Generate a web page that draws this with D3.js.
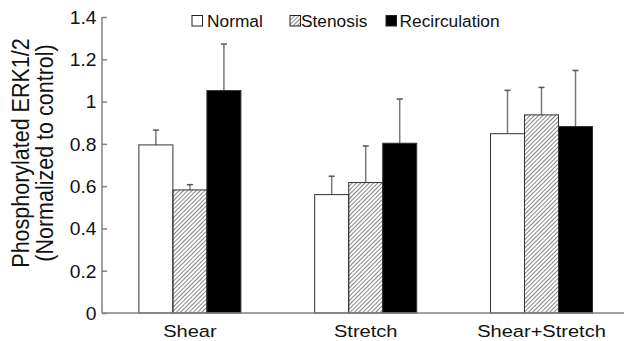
<!DOCTYPE html>
<html>
<head>
<meta charset="utf-8">
<script src="https://cdn.jsdelivr.net/npm/d3@7"></script>
<style>
  body { margin: 0; background: #fff; }
  text { font-family: Arial, "Liberation Sans", sans-serif; fill: #111; }
</style>
</head>
<body>
<div id="chart"></div>
<script>
var width = 624;
var height = 341;

// data
var groups = ["Shear", "Stretch", "Shear+Stretch"];
var series = ["Normal", "Stenosis", "Recirculation"];
var normalVals = [0.795, 0.56, 0.848];
var stenosisVals = [0.582, 0.617, 0.937];
var recircVals = [1.052, 0.803, 0.882];
var normalErr = [0.07, 0.087, 0.205];
var stenosisErr = [0.025, 0.173, 0.13];
var recircErr = [0.22, 0.209, 0.265];
var yTicks = [0, 0.2, 0.4, 0.6, 0.8, 1, 1.2, 1.4];

var values = [normalVals, stenosisVals, recircVals];
var errors = [normalErr, stenosisErr, recircErr];

var x0 = d3.scaleBand().domain(groups).range([102, 102 + 3 * 175.8]).padding(0);
var x1 = d3.scaleBand().domain(series).range([0, x0.bandwidth()]).paddingInner(0).paddingOuter(1.085);
var y = d3.scaleLinear().domain([0, 1.4]).range([313, 17]);

var svg = d3.select("#chart").append("svg")
    .attr("width", width)
    .attr("height", height);

// hatch pattern for Stenosis
var defs = svg.append("defs");
defs.append("pattern")
    .attr("id", "hatch")
    .attr("patternUnits", "userSpaceOnUse")
    .attr("width", 3)
    .attr("height", 3)
    .attr("patternTransform", "rotate(45)")
    .append("line")
    .attr("x1", 0).attr("y1", 0)
    .attr("x2", 0).attr("y2", 3)
    .attr("stroke", "#444")
    .attr("stroke-width", 1.3);

var fills = { "Normal": "#fff", "Stenosis": "url(#hatch)", "Recirculation": "#000" };

// build flat records
var rows = [];
groups.forEach(function(g, i){
    series.forEach(function(s, j){
        rows.push({ group: g, series: s, value: values[j][i], err: errors[j][i] });
    });
});

function cx(d){ return x0(d.group) + x1(d.series) + x1.bandwidth() / 2; }

// error bars
var eb = svg.append("g").attr("id", "errbars");
eb.selectAll("line.stem")
    .data(rows)
    .enter()
        .append("line")
        .attr("class", "stem")
        .attr("x1", cx)
        .attr("x2", cx)
        .attr("y1", function(d){ return y(d.value); })
        .attr("y2", function(d){ return y(d.value + d.err); })
        .attr("stroke", "#7a7a7a")
        .attr("stroke-width", 1.5);
eb.selectAll("line.cap")
    .data(rows)
    .enter()
        .append("line")
        .attr("class", "cap")
        .attr("x1", function(d){ return cx(d) - 3; })
        .attr("x2", function(d){ return cx(d) + 3; })
        .attr("y1", function(d){ return y(d.value + d.err); })
        .attr("y2", function(d){ return y(d.value + d.err); })
        .attr("stroke", "#555")
        .attr("stroke-width", 1.5);

// bars
svg.append("g").attr("id", "bars")
    .selectAll("rect")
    .data(rows)
    .enter()
        .append("rect")
        .attr("x", function(d){ return x0(d.group) + x1(d.series); })
        .attr("y", function(d){ return y(d.value); })
        .attr("width", x1.bandwidth())
        .attr("height", function(d){ return y(0) - y(d.value); })
        .attr("fill", function(d){ return fills[d.series]; })
        .attr("stroke", "#333")
        .attr("stroke-width", 1);

// y axis, ticks point inward
var yAxis = svg.append("g")
    .attr("transform", "translate(102,0)")
    .call(d3.axisRight(y).tickValues(yTicks).tickSize(5).tickFormat(function(d){ return d3.format("")(d); }));
yAxis.select(".domain").attr("stroke", "#808080").attr("stroke-width", 1.5).attr("d", "M0," + y(1.4) + "V" + y(0));
yAxis.selectAll(".tick line").attr("stroke", "#808080").attr("stroke-width", 1.5);
yAxis.selectAll(".tick text")
    .attr("x", -5)
    .attr("dy", "0.36em")
    .attr("text-anchor", "end")
    .attr("transform", "scale(1.1,1)")
    .style("font-size", "17.5px")
    .style("font-family", "Arial, 'Liberation Sans', sans-serif")
    .attr("fill", "#111");

// x axis line
svg.append("line")
    .attr("x1", 102).attr("x2", width)
    .attr("y1", y(0)).attr("y2", y(0))
    .attr("stroke", "#808080")
    .attr("stroke-width", 1.5);

// category labels
svg.append("g").selectAll("text")
    .data(groups)
    .enter()
        .append("text")
        .attr("transform", function(d){ return "translate(" + (x0(d) + x0.bandwidth() / 2) + ",337) scale(1.18,1)"; })
        .attr("text-anchor", "middle")
        .style("font-size", "17px")
        .text(function(d){ return d; });

// y axis title, two lines
var yt = svg.append("text")
    .attr("transform", "translate(29,153) scale(1.15,1) rotate(-90)")
    .attr("text-anchor", "middle")
    .style("font-size", "21.5px");
yt.append("tspan").attr("x", 0).attr("dy", 0).text("Phosphorylated ERK1/2");
yt.append("tspan").attr("x", 0).attr("dy", 21).text("(Normalized to control)");

// legend
var legendBoxX = [192, 290, 386];
var legendTextX = [207, 301, 399.5];
var legend = svg.append("g").attr("id", "legend")
    .selectAll("g")
    .data(series)
    .enter()
        .append("g");
legend.append("rect")
    .attr("x", function(d, i){ return legendBoxX[i]; })
    .attr("y", 15.5)
    .attr("width", 10.5)
    .attr("height", 10.5)
    .attr("fill", function(d){ return fills[d]; })
    .attr("stroke", "#222")
    .attr("stroke-width", 1);
legend.append("text")
    .attr("transform", function(d, i){ return "translate(" + legendTextX[i] + ",26.5) scale(1.05,1)"; })
    .style("font-size", "16.5px")
    .text(function(d){ return d; });
</script>
</body>
</html>
